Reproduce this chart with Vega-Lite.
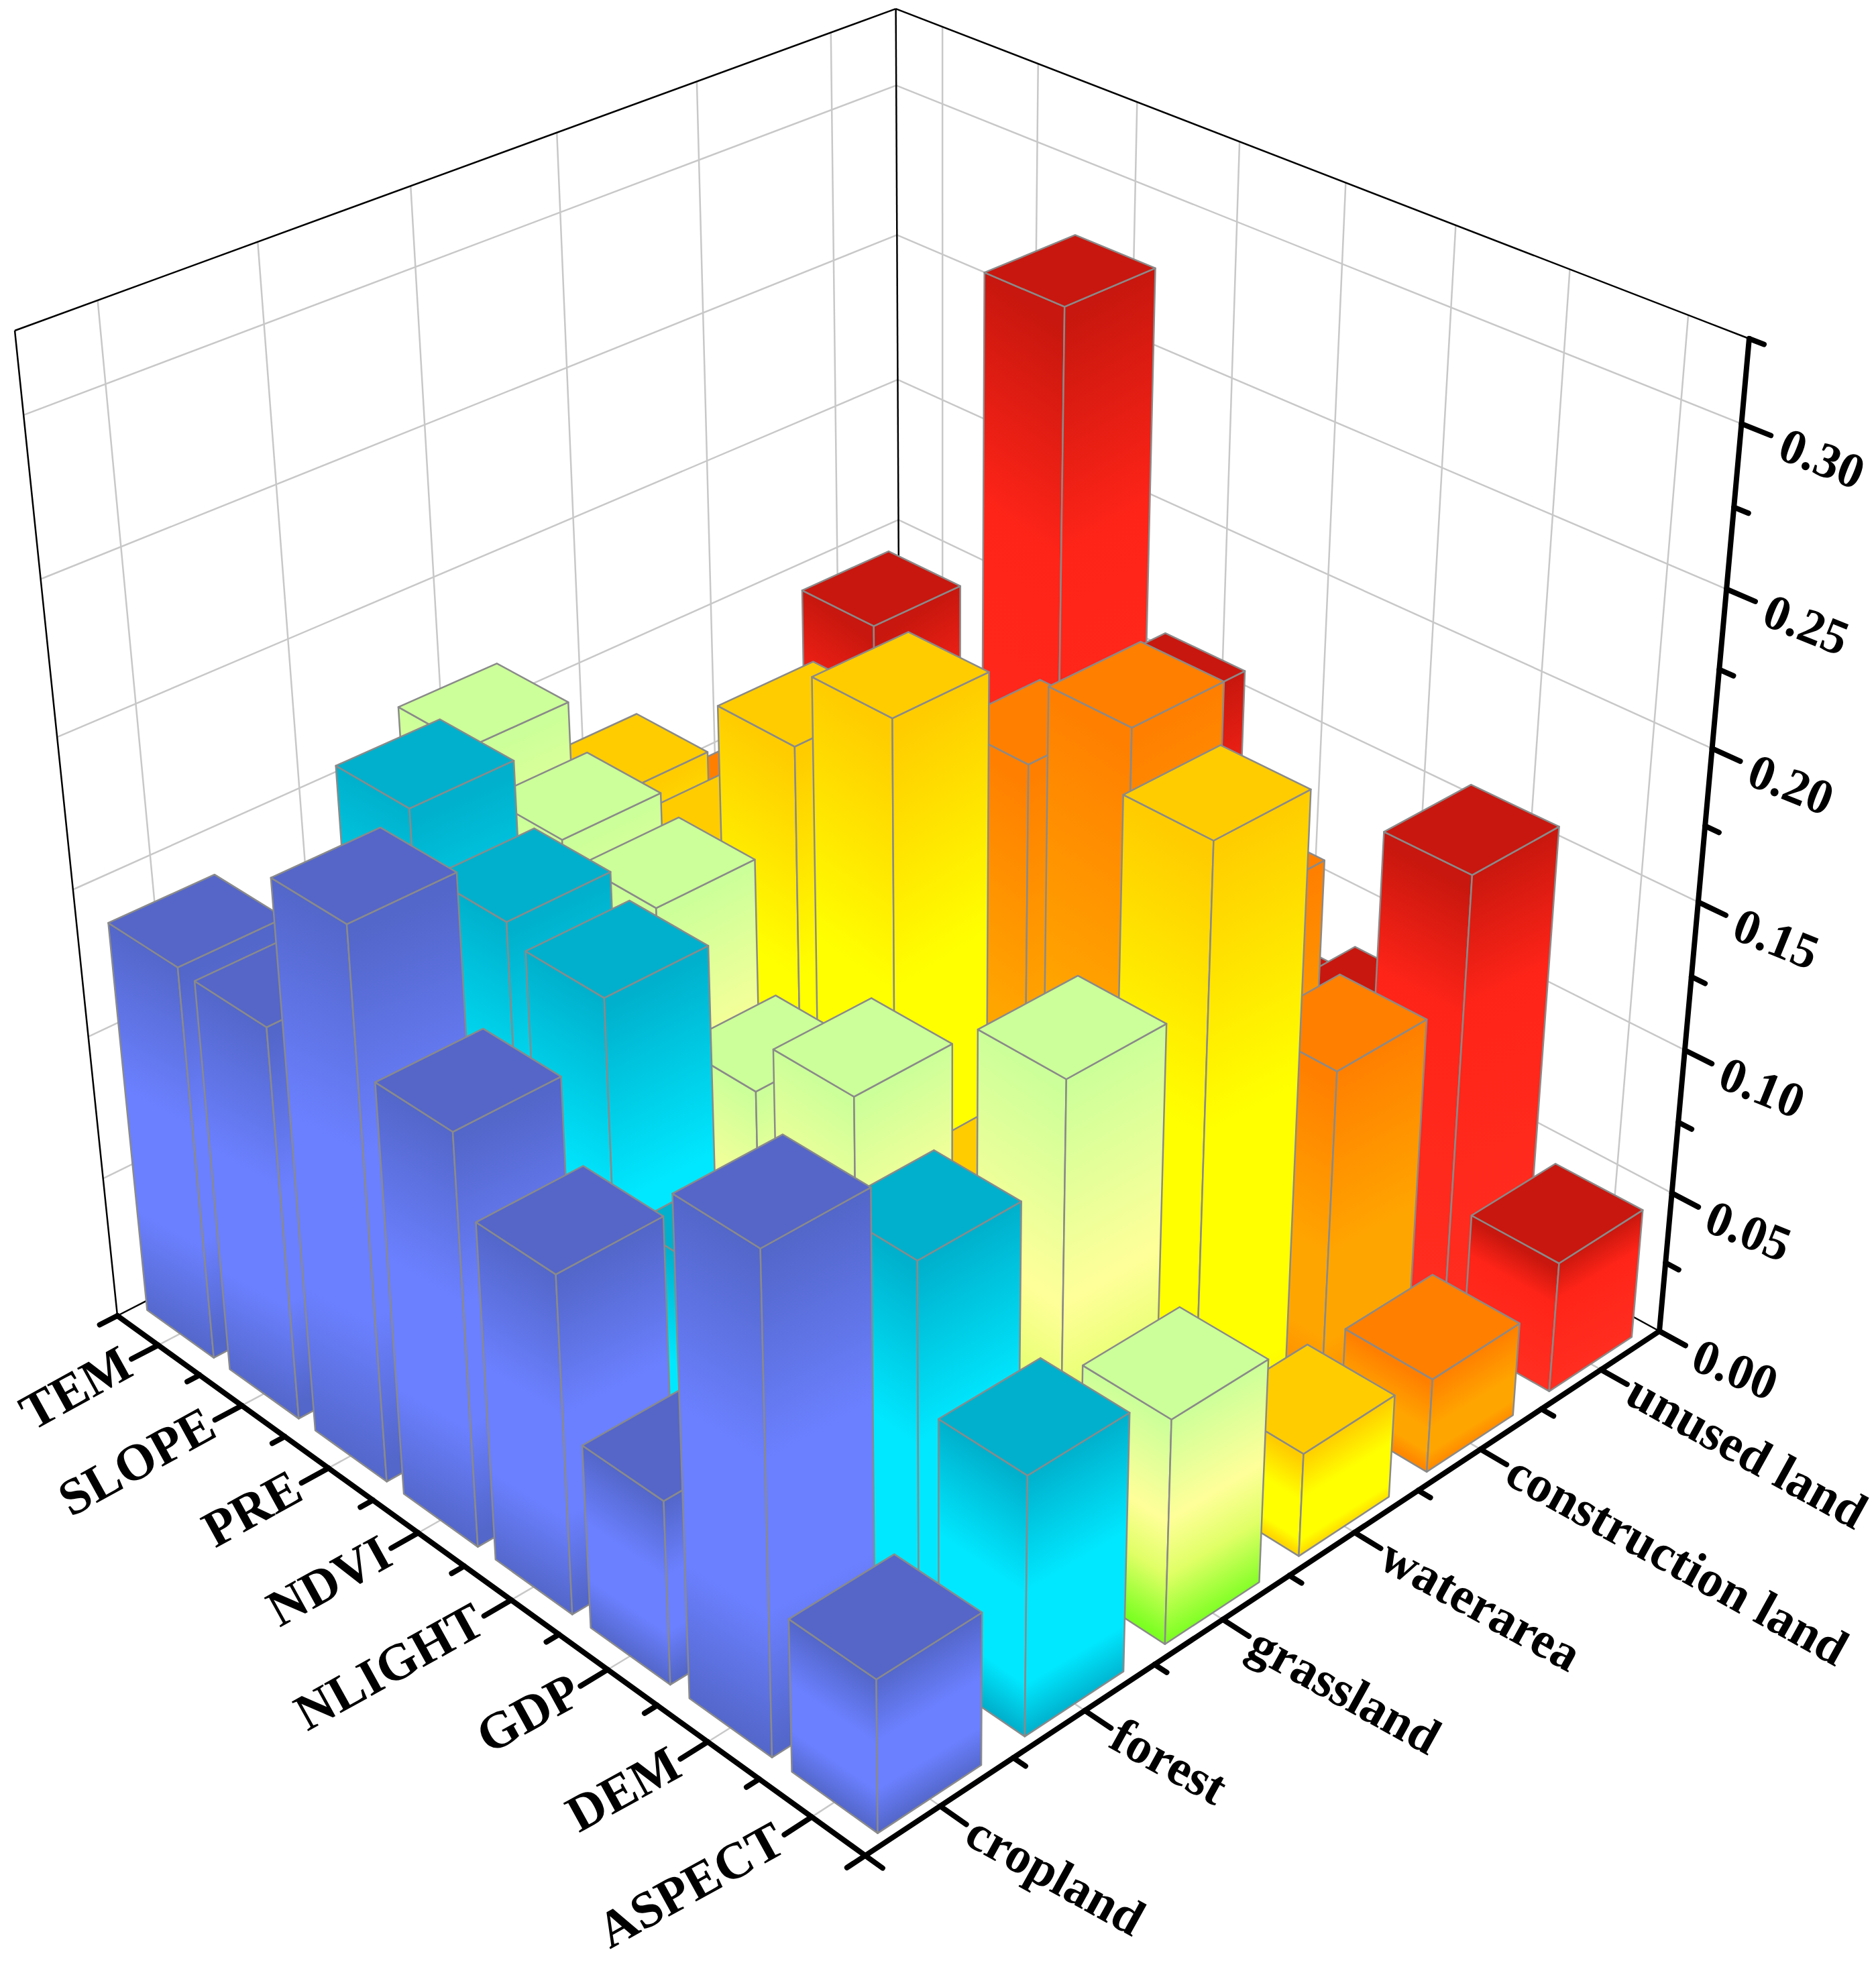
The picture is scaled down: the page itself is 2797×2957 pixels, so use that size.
{"$schema":"https://vega.github.io/schema/vega-lite/v6.json","width":2797,"height":2957,"autosize":{"type":"fit","contains":"padding"},"padding":0,"background":"white","config":{"view":{"stroke":null}},
"datasets":{
"factors":[{"factor":"TEM"},{"factor":"SLOPE"},{"factor":"PRE"},{"factor":"NDVI"},{"factor":"NLIGHT"},{"factor":"GDP"},{"factor":"DEM"},{"factor":"ASPECT"}],
"lands":[{"land":"cropland"},{"land":"forest"},{"land":"grassland"},{"land":"waterarea"},{"land":"construction land"},{"land":"unused land"}],
"ticks":[{"value":0,"label":"0.00"},{"value":0.025},{"value":0.05,"label":"0.05"},{"value":0.075},{"value":0.1,"label":"0.10"},{"value":0.125},{"value":0.15,"label":"0.15"},{"value":0.175},{"value":0.2,"label":"0.20"},{"value":0.225},{"value":0.25,"label":"0.25"},{"value":0.275},{"value":0.3,"label":"0.30"},{"value":0.325}],
"thin":[{"edge":"leftV"},{"edge":"leftTop"},{"edge":"backV"},{"edge":"rightTop"},{"edge":"leftFloor"},{"edge":"rightFloor"}],
"thick":[{"edge":"factorAxis"},{"edge":"landAxis"},{"edge":"valueAxis"},{"edge":"frontTick"},{"edge":"rightTick"}],
"bars":[
{"land":"unused land","factor":"TEM","value":0.143},{"land":"unused land","factor":"SLOPE","value":0.11},{"land":"unused land","factor":"PRE","value":0.28},{"land":"unused land","factor":"NDVI","value":0.161},{"land":"unused land","factor":"NLIGHT","value":0.075},{"land":"unused land","factor":"GDP","value":0.085},{"land":"unused land","factor":"DEM","value":0.159},{"land":"unused land","factor":"ASPECT","value":0.046},
{"land":"construction land","factor":"TEM","value":0.099},{"land":"construction land","factor":"SLOPE","value":0.12},{"land":"construction land","factor":"PRE","value":0.13},{"land":"construction land","factor":"NDVI","value":0.166},{"land":"construction land","factor":"NLIGHT","value":0.195},{"land":"construction land","factor":"GDP","value":0.153},{"land":"construction land","factor":"DEM","value":0.118},{"land":"construction land","factor":"ASPECT","value":0.033},
{"land":"waterarea","factor":"TEM","value":0.126},{"land":"waterarea","factor":"SLOPE","value":0.122},{"land":"waterarea","factor":"PRE","value":0.177},{"land":"waterarea","factor":"NDVI","value":0.203},{"land":"waterarea","factor":"NLIGHT","value":0.06},{"land":"waterarea","factor":"GDP","value":0.09},{"land":"waterarea","factor":"DEM","value":0.216},{"land":"waterarea","factor":"ASPECT","value":0.036},
{"land":"grassland","factor":"TEM","value":0.165},{"land":"grassland","factor":"SLOPE","value":0.151},{"land":"grassland","factor":"PRE","value":0.146},{"land":"grassland","factor":"NDVI","value":0.103},{"land":"grassland","factor":"NLIGHT","value":0.121},{"land":"grassland","factor":"GDP","value":0.05},{"land":"grassland","factor":"DEM","value":0.166},{"land":"grassland","factor":"ASPECT","value":0.077},
{"land":"forest","factor":"TEM","value":0.1},{"land":"forest","factor":"SLOPE","value":0.184},{"land":"forest","factor":"PRE","value":0.165},{"land":"forest","factor":"NDVI","value":0.159},{"land":"forest","factor":"NLIGHT","value":0.088},{"land":"forest","factor":"GDP","value":0.09},{"land":"forest","factor":"DEM","value":0.135},{"land":"forest","factor":"ASPECT","value":0.088},
{"land":"cropland","factor":"TEM","value":0.137},{"land":"cropland","factor":"SLOPE","value":0.136},{"land":"cropland","factor":"PRE","value":0.188},{"land":"cropland","factor":"NDVI","value":0.141},{"land":"cropland","factor":"NLIGHT","value":0.1155},{"land":"cropland","factor":"GDP","value":0.063},{"land":"cropland","factor":"DEM","value":0.166},{"land":"cropland","factor":"ASPECT","value":0.052}
]},
"encoding":{"x":{"field":"x","type":"quantitative","axis":null,"scale":{"domain":[0,2797],"range":[0,2797],"nice":false,"zero":false}},"y":{"field":"y","type":"quantitative","axis":null,"scale":{"domain":[0,2957],"range":[0,2957],"nice":false,"zero":false}}},
"layer":[
{"data":{"name":"factors"},"transform":[
{"calculate":"indexof(['TEM','SLOPE','PRE','NDVI','NLIGHT','GDP','DEM','ASPECT'],datum.factor)","as":"i"},
{"calculate":"['wall','floor']","as":"k"},{"flatten":["k"]},
{"calculate":"(datum.i+0.5)/8","as":"a"},{"calculate":"datum.a","as":"a2"},
{"calculate":"datum.k=='wall'?1:0","as":"b"},{"calculate":"1","as":"b2"},
{"calculate":"0","as":"c"},{"calculate":"datum.k=='wall'?1:0","as":"c2"},
{"calculate":"(175+941*datum.a+1337.5*datum.b-155.4*datum.c)/(1-0.1349*datum.a+0.1266*datum.b-0.1105*datum.c)","as":"x"},
{"calculate":"(1962+431.7*datum.a-425.2*datum.b-1523.5*datum.c)/(1-0.1349*datum.a+0.1266*datum.b-0.1105*datum.c)","as":"y"},
{"calculate":"(175+941*datum.a2+1337.5*datum.b2-155.4*datum.c2)/(1-0.1349*datum.a2+0.1266*datum.b2-0.1105*datum.c2)","as":"x2"},
{"calculate":"(1962+431.7*datum.a2-425.2*datum.b2-1523.5*datum.c2)/(1-0.1349*datum.a2+0.1266*datum.b2-0.1105*datum.c2)","as":"y2"}],
"mark":{"type":"rule","color":"#c8c8c8","strokeWidth":2.5},"encoding":{"x2":{"field":"x2"},"y2":{"field":"y2"}}},
{"data":{"name":"lands"},"transform":[
{"calculate":"indexof(['cropland','forest','grassland','waterarea','construction land','unused land'],datum.land)","as":"j"},
{"calculate":"['wall','floor']","as":"k"},{"flatten":["k"]},
{"calculate":"(datum.j+0.5)/6","as":"b"},{"calculate":"datum.b","as":"b2"},
{"calculate":"0","as":"a"},{"calculate":"datum.k=='wall'?0:1","as":"a2"},
{"calculate":"0","as":"c"},{"calculate":"datum.k=='wall'?1:0","as":"c2"},
{"calculate":"(175+941*datum.a+1337.5*datum.b-155.4*datum.c)/(1-0.1349*datum.a+0.1266*datum.b-0.1105*datum.c)","as":"x"},
{"calculate":"(1962+431.7*datum.a-425.2*datum.b-1523.5*datum.c)/(1-0.1349*datum.a+0.1266*datum.b-0.1105*datum.c)","as":"y"},
{"calculate":"(175+941*datum.a2+1337.5*datum.b2-155.4*datum.c2)/(1-0.1349*datum.a2+0.1266*datum.b2-0.1105*datum.c2)","as":"x2"},
{"calculate":"(1962+431.7*datum.a2-425.2*datum.b2-1523.5*datum.c2)/(1-0.1349*datum.a2+0.1266*datum.b2-0.1105*datum.c2)","as":"y2"}],
"mark":{"type":"rule","color":"#c8c8c8","strokeWidth":2.5},"encoding":{"x2":{"field":"x2"},"y2":{"field":"y2"}}},
{"data":{"name":"ticks"},"transform":[{"filter":"datum.label && datum.value>0"},
{"calculate":"['left','right']","as":"k"},{"flatten":["k"]},
{"calculate":"datum.value/0.325","as":"c"},{"calculate":"datum.c","as":"c2"},
{"calculate":"0","as":"a"},{"calculate":"datum.k=='left'?0:1","as":"a2"},
{"calculate":"datum.k=='left'?0:1","as":"b"},{"calculate":"1","as":"b2"},
{"calculate":"(175+941*datum.a+1337.5*datum.b-155.4*datum.c)/(1-0.1349*datum.a+0.1266*datum.b-0.1105*datum.c)","as":"x"},
{"calculate":"(1962+431.7*datum.a-425.2*datum.b-1523.5*datum.c)/(1-0.1349*datum.a+0.1266*datum.b-0.1105*datum.c)","as":"y"},
{"calculate":"(175+941*datum.a2+1337.5*datum.b2-155.4*datum.c2)/(1-0.1349*datum.a2+0.1266*datum.b2-0.1105*datum.c2)","as":"x2"},
{"calculate":"(1962+431.7*datum.a2-425.2*datum.b2-1523.5*datum.c2)/(1-0.1349*datum.a2+0.1266*datum.b2-0.1105*datum.c2)","as":"y2"}],
"mark":{"type":"rule","color":"#c8c8c8","strokeWidth":2.5},"encoding":{"x2":{"field":"x2"},"y2":{"field":"y2"}}},
{"data":{"name":"thin"},"transform":[
{"calculate":"({leftV:[0,0,0,0,0,1],leftTop:[0,0,1,0,1,1],backV:[0,1,0,0,1,1],rightTop:[0,1,1,1,1,1],leftFloor:[0,0,0,0,1,0],rightFloor:[0,1,0,1,1,0]})[datum.edge]","as":"g"},
{"calculate":"datum.g[0]","as":"a"},{"calculate":"datum.g[1]","as":"b"},{"calculate":"datum.g[2]","as":"c"},{"calculate":"datum.g[3]","as":"a2"},{"calculate":"datum.g[4]","as":"b2"},{"calculate":"datum.g[5]","as":"c2"},
{"calculate":"(175+941*datum.a+1337.5*datum.b-155.4*datum.c)/(1-0.1349*datum.a+0.1266*datum.b-0.1105*datum.c)","as":"x"},
{"calculate":"(1962+431.7*datum.a-425.2*datum.b-1523.5*datum.c)/(1-0.1349*datum.a+0.1266*datum.b-0.1105*datum.c)","as":"y"},
{"calculate":"(175+941*datum.a2+1337.5*datum.b2-155.4*datum.c2)/(1-0.1349*datum.a2+0.1266*datum.b2-0.1105*datum.c2)","as":"x2"},
{"calculate":"(1962+431.7*datum.a2-425.2*datum.b2-1523.5*datum.c2)/(1-0.1349*datum.a2+0.1266*datum.b2-0.1105*datum.c2)","as":"y2"}],
"mark":{"type":"rule","color":"#000000","strokeWidth":2.5},"encoding":{"x2":{"field":"x2"},"y2":{"field":"y2"}}},
{"data":{"name":"bars"},"transform":[
{"calculate":"(indexof(['TEM','SLOPE','PRE','NDVI','NLIGHT','GDP','DEM','ASPECT'],datum.factor)+0.5)/8","as":"ac"},
{"calculate":"(indexof(['cropland','forest','grassland','waterarea','construction land','unused land'],datum.land)+0.5)/6","as":"bc"},
{"calculate":"['left','right','top']","as":"face"},{"flatten":["face"]},
{"calculate":"[0,1,2,3]","as":"v"},{"flatten":["v"]},
{"calculate":"datum.ac+0.0506*({left:[-1,1,1,-1],right:[1,1,1,1],top:[-1,1,1,-1]})[datum.face][datum.v]","as":"a"},
{"calculate":"datum.bc+0.0583*({left:[-1,-1,-1,-1],right:[-1,1,1,-1],top:[-1,-1,1,1]})[datum.face][datum.v]","as":"b"},
{"calculate":"(datum.value/0.325)*({left:[0,0,1,1],right:[0,0,1,1],top:[1,1,1,1]})[datum.face][datum.v]","as":"c"},
{"calculate":"datum.land+'|'+datum.factor+'|'+datum.face","as":"poly"},
{"calculate":"95/(95+4500*datum.value)","as":"e"},
{"calculate":"(1-datum.e)/(1+datum.e*datum.e)","as":"n"},
{"calculate":"datum.face=='top'?({'cropland':'#5566c8','forest':'#00b0cc','grassland':'#ccff99','waterarea':'#ffcc00','construction land':'#ff7f00','unused land':'#c8170e'})[datum.land]:{gradient:'linear',x1:datum.face=='left'?0:1,y1:0,x2:datum.face=='left'?-datum.e*datum.n:1+datum.e*datum.n,y2:datum.n,stops:({'cropland':[{offset:0,color:'#5366c9'},{offset:0.42,color:'#6b80ff'},{offset:0.72,color:'#6b80ff'},{offset:1,color:'#5366c9'}],'forest':[{offset:0,color:'#00b0cc'},{offset:0.45,color:'#00e8ff'},{offset:0.8,color:'#00e8ff'},{offset:1,color:'#00b0cc'}],'grassland':[{offset:0,color:'#ccff99'},{offset:0.45,color:'#ffff99'},{offset:0.7,color:'#e0ff66'},{offset:1,color:'#7cff22'}],'waterarea':[{offset:0,color:'#ffcc00'},{offset:0.45,color:'#ffff00'},{offset:0.85,color:'#ffff00'},{offset:1,color:'#ffd800'}],'construction land':[{offset:0,color:'#ff7f00'},{offset:0.55,color:'#ffa500'},{offset:0.8,color:'#ffa500'},{offset:1,color:'#ff8800'}],'unused land':[{offset:0,color:'#c8170e'},{offset:0.3,color:'#ff2418'},{offset:1,color:'#ff2e20'}]})[datum.land]}","as":"paint"},
{"calculate":"(175+941*datum.a+1337.5*datum.b-155.4*datum.c)/(1-0.1349*datum.a+0.1266*datum.b-0.1105*datum.c)","as":"x"},
{"calculate":"(1962+431.7*datum.a-425.2*datum.b-1523.5*datum.c)/(1-0.1349*datum.a+0.1266*datum.b-0.1105*datum.c)","as":"y"}],
"mark":{"type":"line","interpolate":"linear-closed","stroke":"#8a8a8a","strokeWidth":2.5,"strokeJoin":"round"},
"encoding":{"detail":{"field":"poly"},"order":{"field":"v","type":"quantitative"},
"fill":{"field":"paint","type":"nominal","legend":null,"scale":null}}},
{"data":{"name":"thick"},"transform":[
{"calculate":"({factorAxis:[0,0,0,1,0,0],landAxis:[1,0,0,1,1,0],valueAxis:[1,1,0,1,1,1],frontTick:[1,0,0,1,-0.02,0],rightTick:[1,1,0,1.03,1,0]})[datum.edge]","as":"g"},
{"calculate":"datum.g[0]","as":"a"},{"calculate":"datum.g[1]","as":"b"},{"calculate":"datum.g[2]","as":"c"},{"calculate":"datum.g[3]","as":"a2"},{"calculate":"datum.g[4]","as":"b2"},{"calculate":"datum.g[5]","as":"c2"},
{"calculate":"(175+941*datum.a+1337.5*datum.b-155.4*datum.c)/(1-0.1349*datum.a+0.1266*datum.b-0.1105*datum.c)","as":"x"},
{"calculate":"(1962+431.7*datum.a-425.2*datum.b-1523.5*datum.c)/(1-0.1349*datum.a+0.1266*datum.b-0.1105*datum.c)","as":"y"},
{"calculate":"(175+941*datum.a2+1337.5*datum.b2-155.4*datum.c2)/(1-0.1349*datum.a2+0.1266*datum.b2-0.1105*datum.c2)","as":"x2"},
{"calculate":"(1962+431.7*datum.a2-425.2*datum.b2-1523.5*datum.c2)/(1-0.1349*datum.a2+0.1266*datum.b2-0.1105*datum.c2)","as":"y2"}],
"mark":{"type":"rule","color":"#000000","strokeWidth":8,"strokeCap":"round"},"encoding":{"x2":{"field":"x2"},"y2":{"field":"y2"}}},
{"data":{"name":"factors"},"transform":[
{"calculate":"indexof(['TEM','SLOPE','PRE','NDVI','NLIGHT','GDP','DEM','ASPECT'],datum.factor)","as":"i"},
{"calculate":"['major','minor']","as":"k"},{"flatten":["k"]},
{"calculate":"datum.k=='major'?(datum.i+0.5)/8:datum.i/8","as":"a"},{"calculate":"datum.a","as":"a2"},
{"calculate":"0","as":"b"},{"calculate":"datum.k=='major'?-0.03:(datum.i==0?-0.02:-0.014)","as":"b2"},
{"calculate":"0","as":"c"},{"calculate":"0","as":"c2"},
{"calculate":"(175+941*datum.a+1337.5*datum.b-155.4*datum.c)/(1-0.1349*datum.a+0.1266*datum.b-0.1105*datum.c)","as":"x"},
{"calculate":"(1962+431.7*datum.a-425.2*datum.b-1523.5*datum.c)/(1-0.1349*datum.a+0.1266*datum.b-0.1105*datum.c)","as":"y"},
{"calculate":"(175+941*datum.a2+1337.5*datum.b2-155.4*datum.c2)/(1-0.1349*datum.a2+0.1266*datum.b2-0.1105*datum.c2)","as":"x2"},
{"calculate":"(1962+431.7*datum.a2-425.2*datum.b2-1523.5*datum.c2)/(1-0.1349*datum.a2+0.1266*datum.b2-0.1105*datum.c2)","as":"y2"}],
"mark":{"type":"rule","color":"#000000","strokeWidth":8,"strokeCap":"round"},"encoding":{"x2":{"field":"x2"},"y2":{"field":"y2"}}},
{"data":{"name":"lands"},"transform":[
{"calculate":"indexof(['cropland','forest','grassland','waterarea','construction land','unused land'],datum.land)","as":"j"},
{"calculate":"['major','minor']","as":"k"},{"flatten":["k"]},
{"calculate":"datum.k=='major'?(datum.j+0.5)/6:datum.j/6","as":"b"},{"calculate":"datum.b","as":"b2"},
{"calculate":"1","as":"a"},{"calculate":"datum.k=='major'?1.03:(datum.j==0?1.02:1.014)","as":"a2"},
{"calculate":"0","as":"c"},{"calculate":"0","as":"c2"},
{"calculate":"(175+941*datum.a+1337.5*datum.b-155.4*datum.c)/(1-0.1349*datum.a+0.1266*datum.b-0.1105*datum.c)","as":"x"},
{"calculate":"(1962+431.7*datum.a-425.2*datum.b-1523.5*datum.c)/(1-0.1349*datum.a+0.1266*datum.b-0.1105*datum.c)","as":"y"},
{"calculate":"(175+941*datum.a2+1337.5*datum.b2-155.4*datum.c2)/(1-0.1349*datum.a2+0.1266*datum.b2-0.1105*datum.c2)","as":"x2"},
{"calculate":"(1962+431.7*datum.a2-425.2*datum.b2-1523.5*datum.c2)/(1-0.1349*datum.a2+0.1266*datum.b2-0.1105*datum.c2)","as":"y2"}],
"mark":{"type":"rule","color":"#000000","strokeWidth":8,"strokeCap":"round"},"encoding":{"x2":{"field":"x2"},"y2":{"field":"y2"}}},
{"data":{"name":"ticks"},"transform":[
{"calculate":"datum.value/0.325","as":"c"},{"calculate":"datum.c","as":"c2"},
{"calculate":"1","as":"a"},{"calculate":"datum.label?1.03:1.015","as":"a2"},
{"calculate":"1","as":"b"},{"calculate":"1","as":"b2"},
{"calculate":"(175+941*datum.a+1337.5*datum.b-155.4*datum.c)/(1-0.1349*datum.a+0.1266*datum.b-0.1105*datum.c)","as":"x"},
{"calculate":"(1962+431.7*datum.a-425.2*datum.b-1523.5*datum.c)/(1-0.1349*datum.a+0.1266*datum.b-0.1105*datum.c)","as":"y"},
{"calculate":"(175+941*datum.a2+1337.5*datum.b2-155.4*datum.c2)/(1-0.1349*datum.a2+0.1266*datum.b2-0.1105*datum.c2)","as":"x2"},
{"calculate":"(1962+431.7*datum.a2-425.2*datum.b2-1523.5*datum.c2)/(1-0.1349*datum.a2+0.1266*datum.b2-0.1105*datum.c2)","as":"y2"}],
"mark":{"type":"rule","color":"#000000","strokeWidth":8,"strokeCap":"round"},"encoding":{"x2":{"field":"x2"},"y2":{"field":"y2"}}},
{"data":{"name":"factors"},"transform":[
{"calculate":"(indexof(['TEM','SLOPE','PRE','NDVI','NLIGHT','GDP','DEM','ASPECT'],datum.factor)+0.5)/8","as":"a"},
{"calculate":"(175+941*datum.a+1337.5*(-0.034))/(1-0.1349*datum.a+0.1266*(-0.034))","as":"x"},
{"calculate":"(1962+431.7*datum.a-425.2*(-0.034))/(1-0.1349*datum.a+0.1266*(-0.034))","as":"y"}],
"mark":{"type":"text","font":"Liberation Serif","fontWeight":"bold","fontSize":77,"align":"right","baseline":"middle","angle":331,"color":"#000000"},"encoding":{"text":{"field":"factor"}}},
{"data":{"name":"lands"},"transform":[
{"calculate":"(indexof(['cropland','forest','grassland','waterarea','construction land','unused land'],datum.land)+0.5)/6","as":"b"},
{"calculate":"(175+941*1.035+1337.5*datum.b)/(1-0.1349*1.035+0.1266*datum.b)","as":"x"},
{"calculate":"(1962+431.7*1.035-425.2*datum.b)/(1-0.1349*1.035+0.1266*datum.b)","as":"y"}],
"mark":{"type":"text","font":"Liberation Serif","fontWeight":"bold","fontSize":76,"align":"left","baseline":"middle","angle":29,"dy":3,"color":"#000000"},"encoding":{"text":{"field":"land"}}},
{"data":{"name":"ticks"},"transform":[{"filter":"datum.label"},
{"calculate":"datum.value/0.325","as":"c"},
{"calculate":"(175+941*1.042+1337.5-155.4*datum.c)/(1-0.1349*1.042+0.1266-0.1105*datum.c)","as":"x"},
{"calculate":"(1962+431.7*1.042-425.2-1523.5*datum.c)/(1-0.1349*1.042+0.1266-0.1105*datum.c)","as":"y"}],
"mark":{"type":"text","font":"Liberation Serif","fontWeight":"bold","fontSize":74,"align":"left","baseline":"middle","angle":22,"dy":6,"color":"#000000"},"encoding":{"text":{"field":"label"}}}
]}
